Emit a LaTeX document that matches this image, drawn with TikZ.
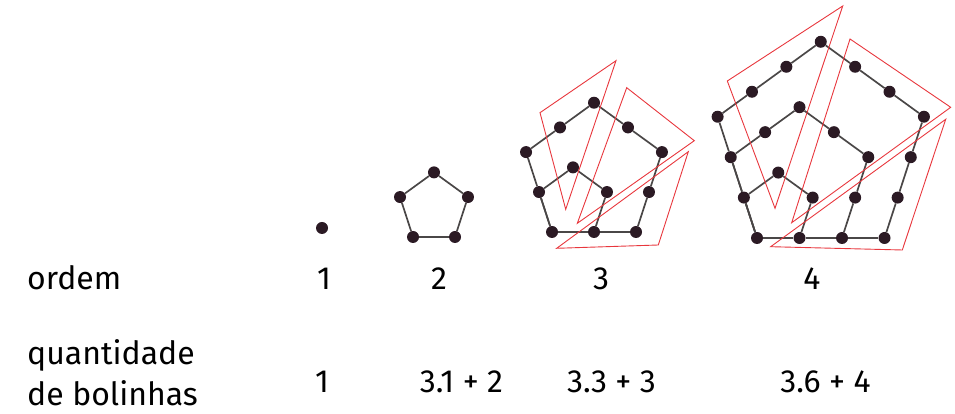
\documentclass[tikz,border=0pt]{standalone}
\usepackage{fontspec}
\setmainfont{Fira Sans}
\usetikzlibrary{calc}
\definecolor{dotFill}{HTML}{2B1A24}
\definecolor{edgeGray}{HTML}{4A4747}
\definecolor{markRed}{HTML}{E8373D}

\begin{document}
\begin{tikzpicture}[
    x=1pt, y=1pt,
    bolinha/.style = {circle, fill=dotFill, draw=none, minimum size=12pt, inner sep=0pt},
    edgeln/.style  = {edgeGray, line width=1.7pt},
    redtri/.style  = {markRed, line width=0.9pt, line join=miter},
    rowlbl/.style  = {font=\fontsize{32}{36}\selectfont, anchor=base west, inner sep=0pt},
    numlbl/.style  = {font=\fontsize{32}{36}\selectfont, anchor=base, inner sep=0pt}
  ]
  \useasboundingbox (0,0) rectangle (955,414);

  % ordem 1
  \node[bolinha] (o1-b0) at (322,186) {};

  % ordem 2..4: nested pentagons sharing the bottom-left dot
  \foreach \n/\bx/\by/\s in {2/413/177/42, 3/552/182/42, 4/757/176/42.5}{
    \pgfmathtruncatemacro{\m}{\n-1}
    \foreach \i in {0,...,\m}
      \node[bolinha] (o\n-b\i) at ($(\bx,\by)+(\i*\s,0)$) {};
    \foreach \i in {1,...,\m}
      \node[bolinha] (o\n-l\i) at ($(\bx,\by)+(108:\i*\s)$) {};
    \foreach \k in {1,...,\m}{
      \pgfmathtruncatemacro{\kk}{\k-1}
      \foreach \j in {1,...,\k}
        \node[bolinha] (o\n-k\k-r\j) at ($(o\n-b\k)+(72:\j*\s)$) {};
      \foreach \j in {1,...,\k}
        \node[bolinha] (o\n-k\k-t\j) at ($(o\n-k\k-r\k)+(144:\j*\s)$) {};
      \ifnum\k>1
        \foreach \j in {1,...,\kk}
          \node[bolinha] (o\n-k\k-s\j) at ($(o\n-k\k-t\k)+(216:\j*\s)$) {};
      \fi
      % sides of pentagon k
      \foreach \j in {1,...,\k}{
        \pgfmathtruncatemacro{\p}{\j-1}
        \draw[edgeln] (o\n-b\p) -- (o\n-b\j);
      }
      \draw[edgeln] (o\n-b\k) -- (o\n-k\k-r1);
      \draw[edgeln] (o\n-k\k-r\k) -- (o\n-k\k-t1);
      \draw[edgeln] (o\n-l1) -- (o\n-b0);
      \ifnum\k>1
        \foreach \j in {2,...,\k}{
          \pgfmathtruncatemacro{\p}{\j-1}
          \draw[edgeln] (o\n-k\k-r\p) -- (o\n-k\k-r\j);
          \draw[edgeln] (o\n-k\k-t\p) -- (o\n-k\k-t\j);
          \draw[edgeln] (o\n-l\j) -- (o\n-l\p);
        }
        \draw[edgeln] (o\n-k\k-t\k) -- (o\n-k\k-s1);
        \ifnum\k>2
          \foreach \j in {2,...,\kk}{
            \pgfmathtruncatemacro{\p}{\j-1}
            \draw[edgeln] (o\n-k\k-s\p) -- (o\n-k\k-s\j);
          }
        \fi
        \draw[edgeln] (o\n-k\k-s\kk) -- (o\n-l\k);
      \else
        \draw[edgeln] (o\n-k\k-t1) -- (o\n-l1);
      \fi
    }
  }

  % red marks, ordem 3
  \draw[redtri] (540,301.3) -- (616,353.3) -- (565.7,204.7) -- cycle;
  \draw[redtri] (626.7,326.3) -- (694.3,273.3) -- (577.3,190.7) -- cycle;
  \draw[redtri] (688.3,262.3) -- (658.3,169) -- (556.7,165.7) -- cycle;
  % red marks, ordem 4
  \draw[redtri] (727.3,333) -- (842.7,408) -- (775,205.7) -- cycle;
  \draw[redtri] (850,375) -- (950.7,306.7) -- (791.7,191.3) -- cycle;
  \draw[redtri] (945.7,294.7) -- (902.3,164) -- (770.7,167.3) -- cycle;

  % table rows
  \node[rowlbl] (ordem) at (27,124) {ordem};
  \node[numlbl] (ord1) at (324,124) {1};
  \node[numlbl] (ord2) at (439,124) {2};
  \node[numlbl] (ord3) at (601,124) {3};
  \node[numlbl] (ord4) at (812,124) {4};

  \node[rowlbl] (quant) at (27,49) {quantidade};
  \node[rowlbl] (bolin) at (27,8) {de bolinhas};
  \node[numlbl] (qtd1) at (322,21.5) {1};
  \node[numlbl] (qtd2) at (461.5,21.5) {3.1 + 2};
  \node[numlbl] (qtd3) at (611.5,21.5) {3.3 + 3};
  \node[numlbl] (qtd4) at (825.5,21.5) {3.6 + 4};
\end{tikzpicture}
\end{document}
